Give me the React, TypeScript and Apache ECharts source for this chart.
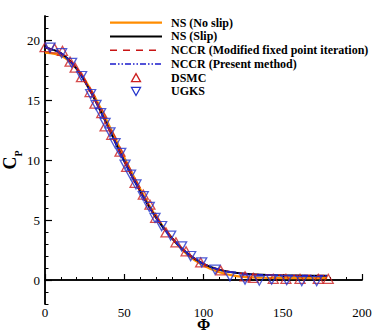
import React, { useEffect, useRef } from "react";
import * as echarts from "echarts";

const phiCurve = [0, 10, 20, 30, 40, 50, 60, 70, 80, 90, 100, 110, 120, 130, 140, 150, 160, 170, 178];
const nsNoSlip = [18.95, 18.7, 17.6, 15.6, 13.0, 10.2, 7.6, 5.3, 3.5, 2.1, 1.2, 0.65, 0.35, 0.22, 0.18, 0.16, 0.15, 0.15, 0.15];
const nsSlip = [19.37, 18.9, 17.6, 15.4, 12.7, 9.9, 7.4, 5.2, 3.5, 2.2, 1.35, 0.85, 0.6, 0.47, 0.42, 0.38, 0.37, 0.36, 0.36];
const nccrModified = [19.37, 18.9, 17.6, 15.4, 12.7, 9.9, 7.4, 5.2, 3.5, 2.2, 1.36, 0.86, 0.6, 0.48, 0.42, 0.39, 0.37, 0.37, 0.37];
const nccrPresent = [19.4, 18.9, 17.6, 15.4, 12.7, 9.9, 7.4, 5.2, 3.5, 2.2, 1.35, 0.85, 0.6, 0.47, 0.42, 0.38, 0.37, 0.36, 0.36];

const dsmcPhi = [0, 6, 11, 15.8, 19, 23, 28.4, 31.5, 35.8, 37.9, 42.1, 47.3, 51.5, 56.8, 62, 66.2, 69.8, 76.3, 82.6, 89, 98.2, 110.8, 126.2, 131.4, 144, 152, 160.9, 172.4, 178.7];
const dsmcCp = [19.4, 19.3, 19.1, 18.2, 17.7, 16.9, 15.66, 14.7, 13.9, 12.8, 12.1, 10.7, 9.43, 8.1, 7.12, 6.28, 5.18, 3.97, 3.14, 2.39, 1.47, 0.8, 0.3, 0.17, 0.1, 0.1, 0.1, 0.1, 0.1];

const ugksPhi = [3.2, 10.5, 16.8, 23.1, 28.8, 32.2, 35.1, 37.9, 41, 44.2, 47.8, 50.5, 54, 57.4, 62, 65.8, 69.4, 73.6, 79.3, 86.2, 91.9, 98.9, 107.3, 116.7, 126.2, 135.2, 143, 152.5, 162, 171.4];
const ugksCp = [19.37, 18.9, 18.1, 17.0, 15.5, 14.6, 13.9, 13.1, 12.3, 11.4, 10.6, 9.62, 8.79, 7.96, 6.98, 6.09, 5.17, 4.5, 3.7, 2.8, 2.0, 1.47, 0.86, 0.3, 0.03, -0.06, 0.03, 0.0, -0.1, -0.1];

const yMajorTicks = [0, 5, 10, 15, 20];
const legendNames = [
  "NS (No slip)",
  "NS (Slip)",
  "NCCR (Modified fixed point iteration)",
  "NCCR (Present method)",
  "DSMC",
  "UGKS",
];

const FONT = "Liberation Serif, DejaVu Serif, serif";
const ORANGE = "#ff8c00";
const BLACK = "#000000";
const DARKRED = "#c81414";
const BLUE = "#1a1acc";
const TRI_RED = "#cc1f1f";
const TRI_BLUE = "#2233cc";
const DASH_RED = [7, 6];
const DASH_BLUE = [6, 2, 1.5, 2, 1.5, 2];

const zip = (a: number[], b: number[]) => a.map((v, i) => [v, b[i]]);

function buildLegend() {
  const x0 = 110;
  const x1 = 162;
  const tx = 171;
  const top = 22.7;
  const step = 13.75;
  const els: any[] = [];
  const lineStyles = [
    { stroke: ORANGE, lineWidth: 2.2 },
    { stroke: BLACK, lineWidth: 2 },
    { stroke: DARKRED, lineWidth: 1.6, lineDash: DASH_RED },
    { stroke: BLUE, lineWidth: 1.6, lineDash: DASH_BLUE },
  ];
  legendNames.forEach((name, i) => {
    const y = top + i * step;
    if (i < 4) {
      els.push({ type: "line", shape: { x1: x0, y1: y, x2: x1, y2: y }, style: lineStyles[i], silent: true });
    } else if (i === 4) {
      const cx = 136;
      els.push({
        type: "polygon",
        shape: { points: [[cx - 4.5, y + 4], [cx + 4.5, y + 4], [cx, y - 4]] },
        style: { fill: "none", stroke: TRI_RED, lineWidth: 1.3 },
        silent: true,
      });
    } else {
      const cx = 136;
      els.push({
        type: "polygon",
        shape: { points: [[cx - 4.5, y - 4], [cx + 4.5, y - 4], [cx, y + 4]] },
        style: { fill: "none", stroke: TRI_BLUE, lineWidth: 1.3 },
        silent: true,
      });
    }
    els.push({
      type: "text",
      x: tx,
      y: y,
      style: {
        text: name,
        fill: "#000",
        font: `bold 12px ${FONT}`,
        verticalAlign: "middle",
      },
      silent: true,
    });
  });
  return els;
}

export default function App() {
  const ref = useRef<HTMLDivElement>(null);
  useEffect(() => {
    if (!ref.current) return;
    const chart = echarts.init(ref.current, undefined, { renderer: "svg" });
    const downTri = "path://M0,0 L10,0 L5,9 Z";
    chart.setOption({
      animation: false,
      backgroundColor: "#ffffff",
      grid: { left: 45, right: 12, top: 16, bottom: 28, containLabel: false, outerBoundsMode: "none" },
      graphic: buildLegend(),
      xAxis: [
        {
          type: "value",
          min: 0,
          max: 200,
          interval: 10,
          axisLine: { show: true, lineStyle: { color: "#000", width: 1.5 } },
          axisTick: { show: true, inside: true, length: 3, lineStyle: { color: "#000", width: 1 } },
          axisLabel: { show: false },
          splitLine: { show: false },
        },
        {
          type: "value",
          position: "bottom",
          min: 0,
          max: 200,
          interval: 50,
          name: "Φ",
          nameLocation: "middle",
          nameGap: 14,
          nameMoveOverlap: false,
          nameTextStyle: { fontFamily: FONT, fontWeight: "bold", fontSize: 16, lineHeight: 13, color: "#000", verticalAlign: "top" },
          axisLine: { show: true, lineStyle: { color: "#000", width: 1.5 } },
          axisTick: { show: true, inside: true, length: 6, lineStyle: { color: "#000", width: 1.2 } },
          axisLabel: { show: true, margin: 2, lineHeight: 13, fontFamily: FONT, fontSize: 13, color: "#000" },
          splitLine: { show: false },
        },
      ],
      yAxis: [
        {
          type: "value",
          min: -2,
          max: 22,
          interval: 1,
          axisLine: { show: true, lineStyle: { color: "#000", width: 1.5 } },
          axisTick: { show: true, inside: true, length: 3.5, lineStyle: { color: "#000", width: 1 } },
          axisLabel: { show: false },
          splitLine: { show: false },
        },
        {
          type: "value",
          position: "left",
          min: -2,
          max: 22,
          name: "{c|C}{p|P}",
          nameLocation: "middle",
          nameRotate: 90,
          nameGap: 26,
          nameMoveOverlap: false,
          nameTextStyle: {
            rich: {
              c: { fontFamily: FONT, fontWeight: "bold", fontSize: 18, color: "#000" },
              p: { fontFamily: FONT, fontWeight: "bold", fontSize: 10, color: "#000", verticalAlign: "bottom", padding: [0, 0, -4, 0] },
            },
          },
          axisLine: { show: true, lineStyle: { color: "#000", width: 1.5 } },
          axisTick: { show: true, inside: true, length: 7, customValues: yMajorTicks, lineStyle: { color: "#000", width: 1.2 } },
          axisLabel: { show: true, margin: 5, customValues: yMajorTicks, fontFamily: FONT, fontSize: 13, color: "#000" },
          splitLine: { show: false },
        },
      ],
      series: [
        {
          name: "NS (No slip)",
          type: "line",
          symbol: "none",
          data: zip(phiCurve, nsNoSlip),
          smooth: 0.3,
          lineStyle: { color: ORANGE, width: 2.2 },
          itemStyle: { color: ORANGE },
          z: 2,
        },
        {
          name: "NS (Slip)",
          type: "line",
          symbol: "none",
          data: zip(phiCurve, nsSlip),
          smooth: 0.3,
          lineStyle: { color: BLACK, width: 2 },
          itemStyle: { color: BLACK },
          z: 3,
        },
        {
          name: "NCCR (Modified fixed point iteration)",
          type: "line",
          symbol: "none",
          data: zip(phiCurve, nccrModified),
          smooth: 0.3,
          lineStyle: { color: DARKRED, width: 1.6, type: DASH_RED },
          itemStyle: { color: DARKRED },
          z: 4,
        },
        {
          name: "NCCR (Present method)",
          type: "line",
          symbol: "none",
          data: zip(phiCurve, nccrPresent),
          smooth: 0.3,
          lineStyle: { color: BLUE, width: 1.6, type: DASH_BLUE },
          itemStyle: { color: BLUE },
          z: 5,
        },
        {
          name: "DSMC",
          type: "scatter",
          symbol: "triangle",
          symbolSize: [10, 9],
          data: zip(dsmcPhi, dsmcCp),
          itemStyle: { color: "rgba(255,255,255,0)", borderColor: TRI_RED, borderWidth: 1.3 },
          z: 6,
        },
        {
          name: "UGKS",
          type: "scatter",
          symbol: downTri,
          symbolSize: [10, 9],
          data: zip(ugksPhi, ugksCp),
          itemStyle: { color: "rgba(255,255,255,0)", borderColor: TRI_BLUE, borderWidth: 1.3 },
          z: 7,
        },
      ],
    });
    return () => chart.dispose();
  }, []);
  return <div ref={ref} style={{ position: "fixed", left: 0, top: 0, width: 374, height: 332 }} />;
}
